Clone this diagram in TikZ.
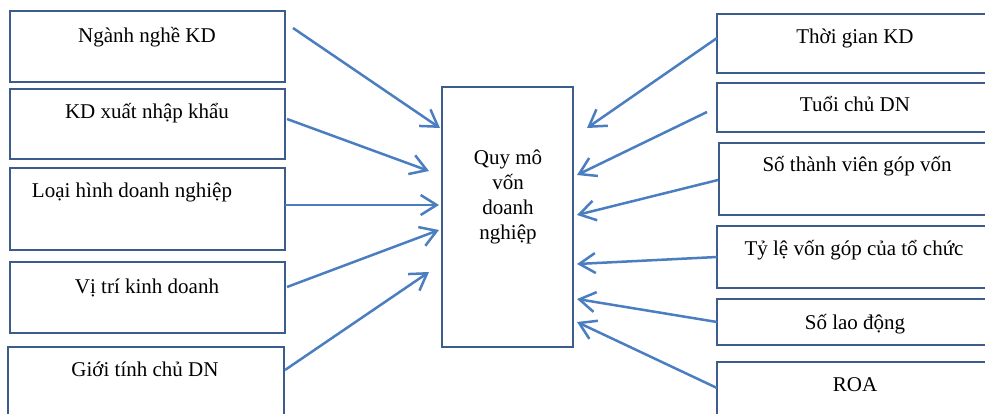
\documentclass[tikz,border=0pt]{standalone}
\usepackage{fontspec}
\setmainfont{Liberation Serif}
\usetikzlibrary{arrows.meta}
\definecolor{boxcol}{RGB}{60,92,140}
\definecolor{arrcol}{RGB}{74,126,193}
\tikzset{
  box/.style={draw=boxcol, line width=2.8pt, inner sep=0pt, outer sep=0pt},
  lbl/.style={font=\fontsize{21}{25}\selectfont, anchor=base, inner sep=0pt},
  arr/.style={draw=arrcol, line width=2.5pt, -{Straight Barb[length=16pt,width=20pt,line width=2.5pt]}}
}
\begin{document}
\begin{tikzpicture}[x=1pt,y=-1pt]
\useasboundingbox (0,0) rectangle (985,414);
% left boxes
\draw[box] (10,11) rectangle (285,82);
\draw[box] (10,89) rectangle (285,159);
\draw[box] (10,168) rectangle (285,250);
\draw[box] (10,262) rectangle (285,333);
\draw[box] (8,347) rectangle (284,430);
\node[lbl] (l1) at (147,43) {Ngành nghề KD};
\node[lbl] (l2) at (147,119) {KD xuất nhập khẩu};
\node[lbl] (l3) at (132,198) {Loại hình doanh nghiệp};
\node[lbl] (l4) at (147,293) {Vị trí kinh doanh};
\node[lbl] (l5) at (145,376) {Giới tính chủ DN};
% centre box
\draw[box] (442,87) rectangle (573,347);
\node[lbl, align=center, anchor=north] (c) at (508,150) {Quy mô\\vốn\\doanh\\nghiệp};
% right boxes
\draw[box] (717,14) rectangle (995,73);
\draw[box] (717,83) rectangle (995,132);
\draw[box] (719,143) rectangle (995,215);
\draw[box] (717,226) rectangle (995,288);
\draw[box] (717,299) rectangle (995,345);
\draw[box] (717,362) rectangle (995,430);
\node[lbl] (r1) at (855,44) {Thời gian KD};
\node[lbl] (r2) at (855,112) {Tuổi chủ DN};
\node[lbl] (r3) at (857,172) {Số thành viên góp vốn};
\node[lbl] (r4) at (854,255) {Tỷ lệ vốn góp của tổ chức};
\node[lbl] (r5) at (855,329) {Số lao động};
\node[lbl] (r6) at (855,391) {ROA};
% arrow end points
\coordinate (a1s) at (293,28);  \coordinate (a1e) at (440,128);
\coordinate (a2s) at (287,119); \coordinate (a2e) at (429,171);
\coordinate (a3s) at (285,205); \coordinate (a3e) at (439,205);
\coordinate (a4s) at (287,287); \coordinate (a4e) at (439,230);
\coordinate (a5s) at (285,370); \coordinate (a5e) at (429,272);
\coordinate (b1s) at (717,38);  \coordinate (b1e) at (587,128);
\coordinate (b2s) at (707,112); \coordinate (b2e) at (577,175);
\coordinate (b3s) at (718,180); \coordinate (b3e) at (577,215);
\coordinate (b4s) at (717,257); \coordinate (b4e) at (577,264);
\coordinate (b5s) at (717,322); \coordinate (b5e) at (577,299);
\coordinate (b6s) at (717,388); \coordinate (b6e) at (577,322);
\foreach \i in {1,...,5} {\draw[arr] (a\i s) -- (a\i e);}
\foreach \i in {1,...,6} {\draw[arr] (b\i s) -- (b\i e);}
\end{tikzpicture}
\end{document}
